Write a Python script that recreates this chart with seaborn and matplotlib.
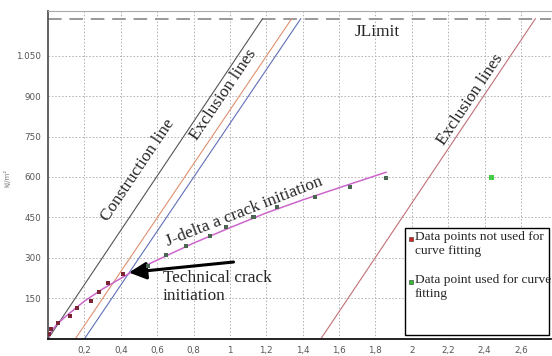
import numpy as np
import pandas as pd
import matplotlib
matplotlib.use("Agg")
import matplotlib.pyplot as plt
import matplotlib.ticker as mticker
from matplotlib.patches import Rectangle
import seaborn as sns

# values (crack extension in mm, J in kJ/m2)
da_not_used = [0.005, 0.015, 0.055, 0.12, 0.16, 0.235, 0.28, 0.33, 0.41]
j_not_used = [18, 37, 59, 85, 115, 141, 174, 207, 240]
da_used = [0.55, 0.65, 0.76, 0.89, 0.98, 1.13, 1.26, 1.47, 1.66, 1.86]
j_used = [270, 311, 345, 382, 416, 452, 489, 526, 563, 597]
da_outside = [2.44]
j_outside = [597]

# fitted J-R curve, read at a few points
fit_da = [0, 0.02, 0.05, 0.1, 0.2, 0.3, 0.45, 0.6, 0.8, 1.0, 1.2, 1.4, 1.6, 1.86]
fit_j = [0, 30, 55, 85, 140, 185, 244, 292, 355, 412, 467, 515, 560, 618]

j_limit = 1187

# straight lines: x in mm at J=0 and at J=j_limit
construction_x = [0, 1.18]
exclusion1_x = [0.15, 1.34]
offset02_x = [0.2, 1.39]
exclusion2_x = [1.5, 2.68]
line_j = [0, j_limit]

x_ticks = [0.2, 0.4, 0.6, 0.8, 1.0, 1.2, 1.4, 1.6, 1.8, 2.0, 2.2, 2.4, 2.6]
y_ticks = [150, 300, 450, 600, 750, 900, 1050]

sns.set_style("white")
plt.rcParams['font.family'] = ['DejaVu Sans']

fig = plt.figure(figsize=(5.52, 3.56), dpi=100)
ax = fig.add_axes([0.087, 0.048, 0.911, 0.921])
ax.set_xlim(0, 2.765)
ax.set_ylim(0, 1215)

# grid
ax.set_xticks(x_ticks)
ax.set_yticks(y_ticks)
ax.grid(True, linestyle=(0, (1.5, 2)), color='#b0b0b0', lw=0.7)
ax.xaxis.set_major_formatter(mticker.FuncFormatter(
    lambda v, p: (f"{v:g}").replace('.', ',')))
ax.yaxis.set_major_formatter(mticker.FuncFormatter(
    lambda v, p: f"{int(v):,}".replace(',', '.')))
ax.tick_params(axis='both', labelsize=6.3, labelcolor='#555555', length=2,
               color='#777777', pad=3)

ax.spines['right'].set_visible(False)
ax.spines['top'].set_color('#aaaaaa')
ax.spines['top'].set_linewidth(0.8)
ax.spines['left'].set_color('#555555')
ax.spines['left'].set_linewidth(1.3)
ax.spines['bottom'].set_color('#111111')
ax.spines['bottom'].set_linewidth(1.3)

# JLimit dashed line
ax.axhline(j_limit, color='#999999', lw=1.4, dashes=(7, 4))

# straight lines
ax.plot(construction_x, line_j, color='#555555', lw=0.8)
ax.plot(exclusion1_x, line_j, color='#e09070', lw=0.8)
ax.plot(offset02_x, line_j, color='#6070b8', lw=0.8)
ax.plot(exclusion2_x, line_j, color='#c07078', lw=0.8)

# fitted curve
fit_df = pd.DataFrame({"da": fit_da, "J": fit_j})
sns.lineplot(data=fit_df, x="da", y="J", ax=ax, color='#cc66cc', lw=1.1,
             sort=False, estimator=None)

# data points
sns.scatterplot(x=da_not_used, y=j_not_used, ax=ax, marker='s', s=9,
                color='#7a2535', edgecolor='none', zorder=5)
sns.scatterplot(x=da_used, y=j_used, ax=ax, marker='s', s=9,
                color='#4a6650', edgecolor='none', zorder=5)
sns.scatterplot(x=da_outside, y=j_outside, ax=ax, marker='s', s=12,
                color='#44cc44', edgecolor='none', zorder=5)

ax.set_xlabel("mm", fontsize=5, color='#777777')
ax.set_ylabel("kJ/m²", fontsize=5, color='#777777')
ax.xaxis.set_label_coords(0.507, -0.05)
ax.yaxis.set_label_coords(-0.075, 0.49)


def angle_of(xs, ys):
    p1 = ax.transData.transform((xs[0], ys[0]))
    p2 = ax.transData.transform((xs[1], ys[1]))
    return np.degrees(np.arctan2(p2[1] - p1[1], p2[0] - p1[0]))


serif = ['Liberation Serif', 'DejaVu Serif']
tfs = 12.4
ax.text(0.495, 626, "Construction line", rotation=angle_of(construction_x, line_j),
        ha='center', va='center', fontsize=tfs, family=serif, rotation_mode='anchor')
ax.text(0.967, 904, "Exclusion lines", rotation=angle_of(exclusion1_x, line_j),
        ha='center', va='center', fontsize=tfs, family=serif, rotation_mode='anchor')
ax.text(2.324, 885, "Exclusion lines", rotation=angle_of(exclusion2_x, line_j),
        ha='center', va='center', fontsize=tfs, family=serif, rotation_mode='anchor')
ax.text(1.077, 470, "J-delta a crack initiation", rotation=angle_of([0.45, 1.86], [244, 618]),
        ha='center', va='center', fontsize=tfs, family=serif, rotation_mode='anchor')
ax.text(1.813, 1137, "JLimit", ha='center', va='center', fontsize=tfs, family=serif)
ax.text(0.632, 193, "Technical crack\ninitiation", ha='left', va='center',
        fontsize=tfs, family=serif, linespacing=1.15)

ax.annotate("", xy=(0.445, 246), xytext=(1.02, 285),
            arrowprops=dict(arrowstyle='-|>', color='black', lw=2.2,
                            mutation_scale=26, shrinkA=0, shrinkB=0))

# legend box
ax.add_patch(Rectangle((0.71, 0.012), 0.287, 0.326, transform=ax.transAxes,
                       facecolor='white', edgecolor='black', lw=1.0, zorder=6))
ax.scatter([0.722], [0.306], transform=ax.transAxes, marker='s', s=10,
           color='#cc2222', edgecolor='#333333', linewidths=0.4, zorder=7)
ax.scatter([0.722], [0.175], transform=ax.transAxes, marker='s', s=10,
           color='#33bb33', edgecolor='#333333', linewidths=0.4, zorder=7)
ax.text(0.729, 0.33, "Data points not used for\ncurve fitting", transform=ax.transAxes,
        ha='left', va='top', fontsize=9.6, family=serif, linespacing=1.25, zorder=7)
ax.text(0.729, 0.199, "Data point used for curve\nfitting", transform=ax.transAxes,
        ha='left', va='top', fontsize=9.6, family=serif, linespacing=1.25, zorder=7)

fig.savefig("out.png", dpi=100)
